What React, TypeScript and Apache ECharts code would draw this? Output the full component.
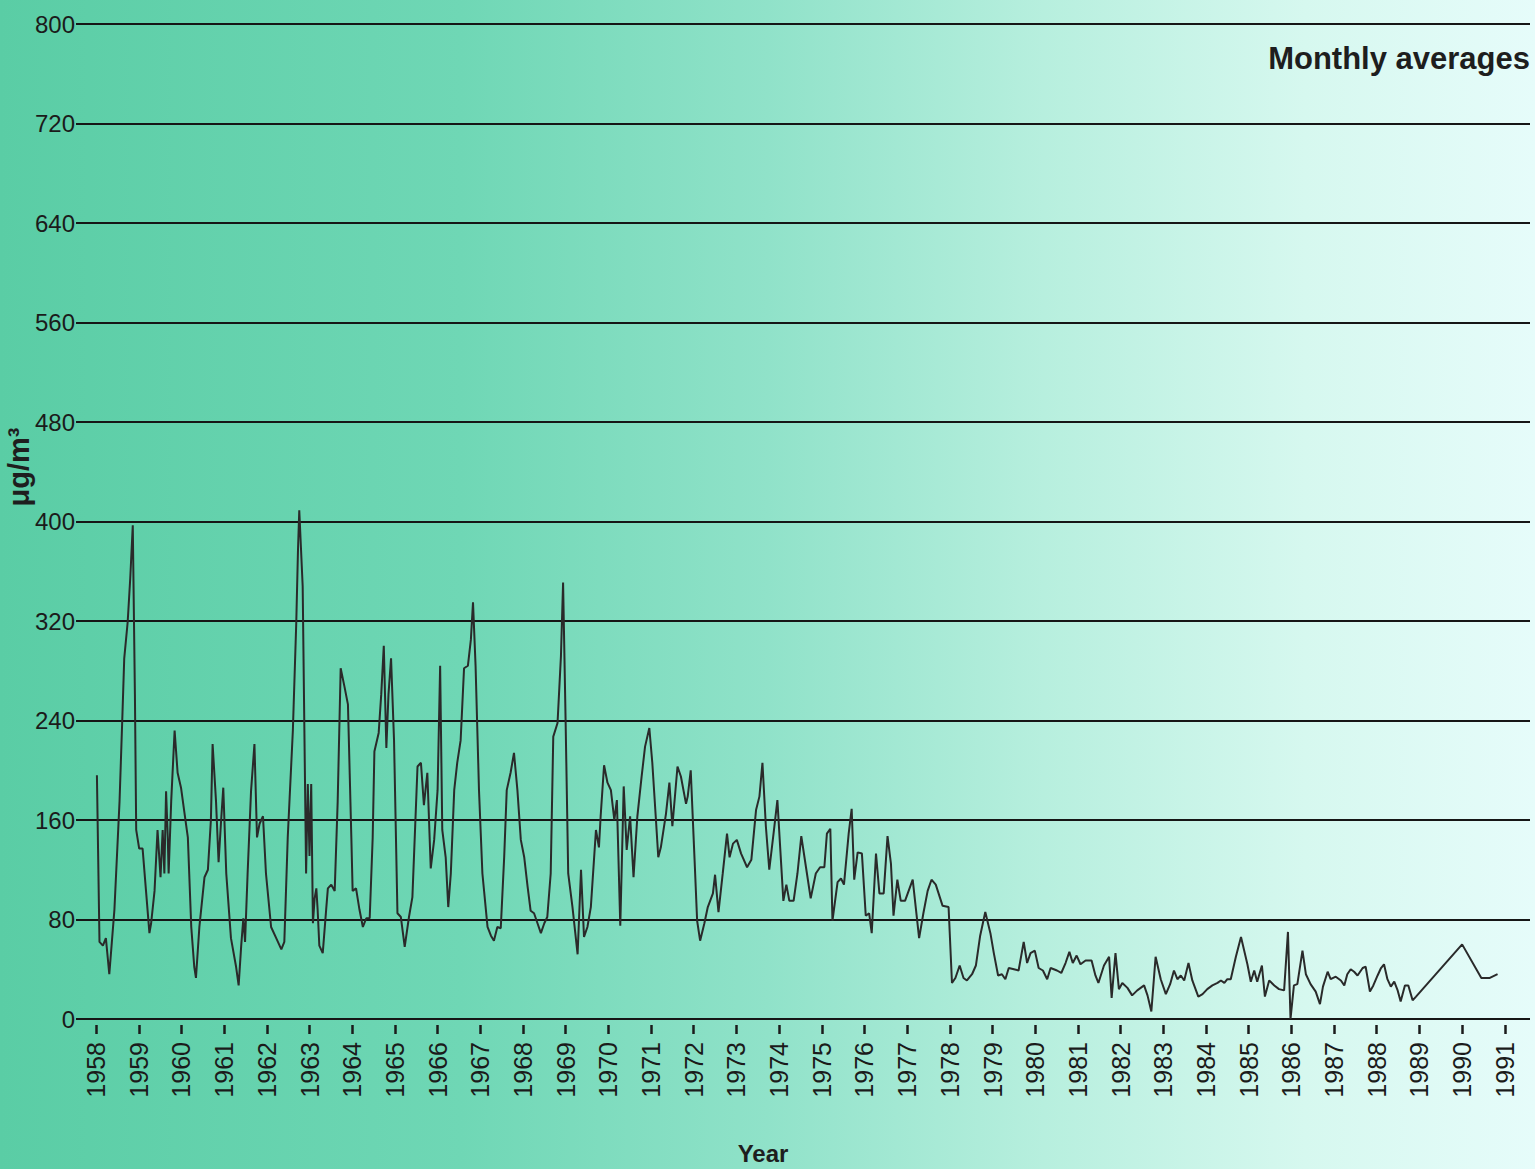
import React, { useEffect, useRef } from "react";
import * as echarts from "echarts";

// Tick labels
const yearTicks: number[] = [];
for (let y = 1958; y <= 1991; y++) yearTicks.push(y);
const yTickStep = 80;

// Monthly averages (µg/m³), [decimal year, value]
const series1958to1964: [number, number][] = [
  [1958.02, 196], [1958.08, 62], [1958.16, 59], [1958.23, 65], [1958.31, 36], [1958.43, 88],
  [1958.55, 175], [1958.62, 247], [1958.66, 290], [1958.74, 319], [1958.8, 354], [1958.86, 397],
  [1958.91, 261], [1958.94, 152], [1959.01, 137], [1959.09, 137], [1959.17, 103], [1959.25, 69],
  [1959.29, 77], [1959.37, 103], [1959.44, 152], [1959.51, 114], [1959.56, 152], [1959.6, 117],
  [1959.64, 183], [1959.68, 146], [1959.7, 117], [1959.76, 175], [1959.84, 232], [1959.91, 198],
  [1959.99, 186], [1960.07, 166], [1960.15, 146], [1960.23, 74], [1960.3, 42], [1960.34, 33],
  [1960.42, 74], [1960.54, 114], [1960.62, 120], [1960.69, 160], [1960.73, 221], [1960.81, 175],
  [1960.87, 126], [1960.93, 160], [1960.98, 186], [1961.05, 117], [1961.16, 65], [1961.28, 42],
  [1961.34, 27], [1961.4, 59], [1961.45, 81], [1961.49, 62], [1961.55, 117], [1961.63, 183],
  [1961.71, 221], [1961.77, 146], [1961.83, 157], [1961.91, 163], [1961.98, 117], [1962.1, 74],
  [1962.22, 65], [1962.34, 56], [1962.41, 62], [1962.49, 146], [1962.61, 232], [1962.69, 319],
  [1962.73, 377], [1962.76, 409], [1962.84, 348], [1962.88, 232], [1962.92, 117], [1962.96, 189],
  [1963.0, 131], [1963.04, 189], [1963.08, 77], [1963.12, 97], [1963.16, 105], [1963.19, 88],
  [1963.23, 59], [1963.31, 53], [1963.39, 88], [1963.43, 105], [1963.51, 108], [1963.59, 103],
  [1963.66, 175], [1963.73, 282], [1963.82, 267], [1963.9, 253], [1963.98, 146], [1964.01, 103],
  [1964.09, 105], [1964.17, 88], [1964.25, 74], [1964.33, 81], [1964.41, 81], [1964.48, 146],
  [1964.52, 215], [1964.62, 230], [1964.68, 261], [1964.74, 300], [1964.8, 218], [1964.85, 261],
  [1964.91, 290],
];

const series1965to1971: [number, number][] = [
  [1964.98, 224], [1965.06, 85], [1965.14, 82], [1965.23, 58], [1965.33, 82], [1965.41, 98],
  [1965.53, 203], [1965.61, 206], [1965.68, 172], [1965.76, 198], [1965.84, 121], [1965.92, 144],
  [1966.0, 184], [1966.06, 284], [1966.11, 152], [1966.19, 130], [1966.25, 90], [1966.31, 117],
  [1966.39, 184], [1966.46, 206], [1966.54, 224], [1966.62, 282], [1966.71, 284], [1966.78, 305],
  [1966.83, 335], [1966.89, 284], [1966.97, 184], [1967.05, 117], [1967.17, 74], [1967.25, 67],
  [1967.32, 63], [1967.4, 74], [1967.48, 73], [1967.56, 130], [1967.62, 184], [1967.71, 198],
  [1967.79, 214], [1967.87, 184], [1967.95, 144], [1968.03, 130], [1968.11, 106], [1968.18, 87],
  [1968.26, 85], [1968.34, 77], [1968.42, 69], [1968.5, 77], [1968.57, 82], [1968.65, 117],
  [1968.71, 227], [1968.81, 238], [1968.89, 292], [1968.94, 351], [1969.0, 238], [1969.06, 117],
  [1969.16, 90], [1969.28, 52], [1969.36, 120], [1969.43, 66], [1969.51, 74], [1969.59, 90],
  [1969.71, 152], [1969.78, 138], [1969.82, 163], [1969.9, 204], [1969.98, 190], [1970.06, 184],
  [1970.14, 160], [1970.2, 176], [1970.28, 75], [1970.36, 187], [1970.43, 136], [1970.51, 163],
  [1970.59, 114], [1970.68, 163], [1970.78, 195], [1970.86, 219], [1970.96, 234], [1971.03, 206],
  [1971.11, 163], [1971.17, 130], [1971.23, 138], [1971.35, 165], [1971.43, 190], [1971.5, 155],
  [1971.62, 203], [1971.7, 195], [1971.82, 173], [1971.86, 179], [1971.93, 200],
];

const series1972to1977: [number, number][] = [
  [1972.02, 128], [1972.08, 79], [1972.15, 63], [1972.25, 77], [1972.33, 90], [1972.45, 101],
  [1972.5, 116], [1972.58, 86], [1972.68, 117], [1972.78, 149], [1972.84, 130], [1972.92, 141],
  [1973.01, 144], [1973.11, 133], [1973.25, 122], [1973.35, 128], [1973.46, 168], [1973.54, 179],
  [1973.61, 206], [1973.69, 155], [1973.77, 120], [1973.87, 149], [1973.96, 176], [1974.02, 141],
  [1974.1, 95], [1974.17, 108], [1974.24, 95], [1974.34, 95], [1974.43, 117], [1974.52, 147],
  [1974.63, 122], [1974.74, 97], [1974.86, 117], [1974.96, 122], [1975.06, 122], [1975.12, 149],
  [1975.2, 153], [1975.25, 79], [1975.37, 110], [1975.45, 113], [1975.52, 108], [1975.63, 149],
  [1975.7, 169], [1975.76, 112], [1975.84, 134], [1975.94, 133], [1976.03, 83], [1976.11, 85],
  [1976.17, 69], [1976.27, 133], [1976.35, 101], [1976.45, 101], [1976.54, 147], [1976.62, 125],
  [1976.68, 83], [1976.77, 112], [1976.85, 95], [1976.95, 95], [1977.13, 112], [1977.28, 65],
  [1977.38, 85], [1977.48, 103], [1977.57, 112], [1977.67, 108], [1977.83, 91], [1977.97, 90],
];

const series1978to1984: [number, number][] = [
  [1978.05, 29], [1978.13, 33], [1978.23, 43], [1978.32, 33], [1978.4, 31], [1978.52, 36],
  [1978.61, 43], [1978.71, 67], [1978.83, 86], [1978.95, 69], [1979.03, 53], [1979.13, 35],
  [1979.22, 36], [1979.3, 32], [1979.38, 41], [1979.5, 40], [1979.61, 39], [1979.73, 62],
  [1979.81, 45], [1979.89, 53], [1979.99, 55], [1980.08, 41], [1980.18, 39], [1980.28, 32],
  [1980.36, 41], [1980.51, 39], [1980.61, 37], [1980.71, 45], [1980.8, 54], [1980.88, 45],
  [1980.97, 51], [1981.06, 44], [1981.18, 47], [1981.32, 47], [1981.41, 35], [1981.48, 29],
  [1981.61, 43], [1981.73, 50], [1981.79, 17], [1981.88, 53], [1981.96, 24], [1982.04, 29],
  [1982.16, 25], [1982.27, 19], [1982.39, 23], [1982.55, 27], [1982.63, 19], [1982.72, 6],
  [1982.82, 50], [1982.94, 32], [1983.06, 20], [1983.16, 28], [1983.25, 39], [1983.33, 32],
  [1983.41, 35], [1983.49, 31], [1983.59, 45], [1983.68, 31], [1983.82, 18], [1983.92, 20],
  [1984.03, 24], [1984.15, 27], [1984.27, 29], [1984.35, 31], [1984.43, 29], [1984.5, 32],
  [1984.58, 32], [1984.7, 50], [1984.82, 66],
];

const series1985to1990: [number, number][] = [
  [1984.97, 44], [1985.05, 30], [1985.13, 39], [1985.2, 30], [1985.31, 43], [1985.38, 18],
  [1985.48, 31], [1985.6, 27], [1985.71, 24], [1985.83, 23], [1985.92, 70], [1985.98, 0],
  [1986.06, 27], [1986.14, 28], [1986.26, 55], [1986.34, 36], [1986.45, 28], [1986.57, 22],
  [1986.67, 12], [1986.74, 26], [1986.85, 38], [1986.92, 32], [1987.04, 34], [1987.16, 31],
  [1987.24, 27], [1987.31, 36], [1987.39, 40], [1987.47, 38], [1987.55, 35], [1987.67, 41],
  [1987.74, 42], [1987.84, 22], [1987.92, 27], [1988.02, 35], [1988.1, 41], [1988.17, 44],
  [1988.25, 32], [1988.33, 26], [1988.41, 30], [1988.49, 23], [1988.56, 14], [1988.66, 27],
  [1988.74, 27], [1988.84, 15], [1988.92, 18], [1990.0, 60], [1990.45, 33], [1990.65, 33],
  [1990.83, 36],
];

const allPoints = [
  ...series1958to1964,
  ...series1965to1971,
  ...series1972to1977,
  ...series1978to1984,
  ...series1985to1990,
];

const FONT = "'Liberation Sans', Arial, Helvetica, sans-serif";
const INK = "#1b1b1b";

export default function App() {
  const ref = useRef<HTMLDivElement>(null);

  useEffect(() => {
    if (!ref.current) return;
    const chart = echarts.init(ref.current, undefined, { renderer: "svg" });
    chart.setOption({
      animation: false,
      backgroundColor: new echarts.graphic.LinearGradient(0, 0, 1, 0, [
        { offset: 0, color: "#5acda5" },
        { offset: 0.3, color: "#6fd7b5" },
        { offset: 0.5, color: "#90e2c9" },
        { offset: 0.68, color: "#b7efde" },
        { offset: 0.85, color: "#d6f8ef" },
        { offset: 1, color: "#e6fcfa" },
      ]),
      grid: { left: 76, right: 5, top: 24, bottom: 150, containLabel: false },
      xAxis: [
        {
          type: "value",
          min: 1957.53,
          max: 1991.59,
          axisLine: { show: false },
          axisTick: { show: false },
          splitLine: { show: false },
          axisLabel: {
            customValues: yearTicks,
            rotate: 90,
            margin: 23,
            fontSize: 25,
            color: INK,
            fontFamily: FONT,
            formatter: (v: number) => String(v),
          },
        },
        {
          type: "value",
          position: "bottom",
          offset: 6,
          min: 1957.53,
          max: 1991.59,
          axisLine: { show: false },
          splitLine: { show: false },
          axisLabel: { show: false },
          axisTick: {
            show: true,
            customValues: yearTicks,
            length: 9,
            lineStyle: { color: INK, width: 2.5 },
          },
        },
      ],
      yAxis: {
        type: "value",
        min: 0,
        max: 800,
        interval: yTickStep,
        axisLine: { show: false },
        axisTick: { show: false },
        splitLine: { show: true, lineStyle: { color: "#161616", width: 2 } },
        axisLabel: {
          margin: 1,
          fontSize: 24,
          color: INK,
          fontFamily: FONT,
          padding: [0, 0, 8, 0],
        },
      },
      graphic: [
        {
          type: "text",
          right: 5,
          top: 43,
          style: {
            text: "Monthly averages",
            font: `bold 31px ${FONT}`,
            fill: "#1e1e1e",
          },
        },
        {
          type: "text",
          x: 763,
          y: 1153,
          style: {
            text: "Year",
            font: `bold 24px ${FONT}`,
            fill: "#1e1e1e",
            align: "center",
            verticalAlign: "middle",
          },
        },
        {
          type: "text",
          x: 19,
          y: 467,
          rotation: Math.PI / 2,
          style: {
            text: "μg/m³",
            font: `bold 29px ${FONT}`,
            fill: "#1e1e1e",
            align: "center",
            verticalAlign: "middle",
          },
        },
      ],
      series: [
        {
          type: "line",
          xAxisIndex: 0,
          data: allPoints,
          showSymbol: false,
          smooth: false,
          lineStyle: { color: "#2a2a2a", width: 2 },
        },
      ],
    });
    return () => chart.dispose();
  }, []);

  return (
    <div
      ref={ref}
      style={{ position: "absolute", left: 0, top: 0, width: 1535, height: 1169 }}
    />
  );
}
